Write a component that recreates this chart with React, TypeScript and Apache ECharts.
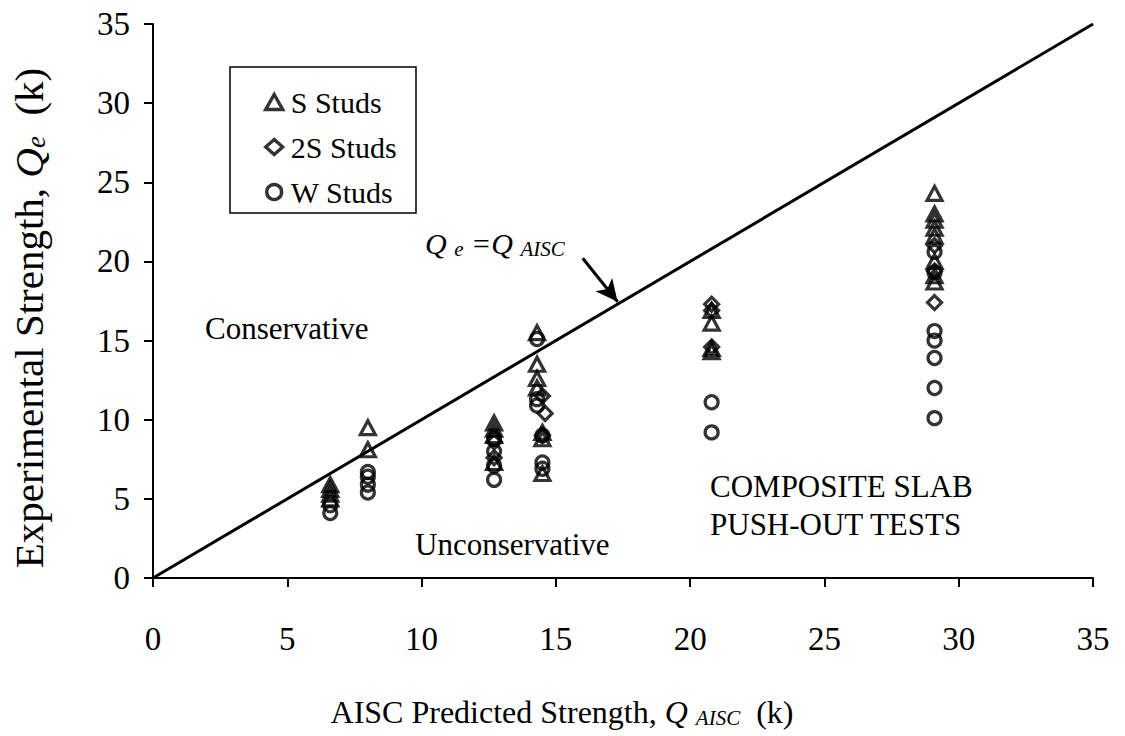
import React, { useEffect, useRef } from "react";
import * as echarts from "echarts";

const xTicks = [0, 5, 10, 15, 20, 25, 30, 35];
const yTicks = [0, 5, 10, 15, 20, 25, 30, 35];

const sStuds: number[][] = [
  [6.6, 5.9], [6.6, 5.6], [6.6, 5.3], [6.6, 5.0],
  [8.0, 9.5], [8.0, 8.1],
  [12.7, 9.8], [12.7, 9.4], [12.7, 9.0], [12.7, 7.3],
  [14.3, 15.5], [14.3, 13.5], [14.3, 12.6], [14.3, 12.0], [14.5, 9.2], [14.5, 8.8], [14.5, 6.6],
  [20.8, 16.9], [20.8, 16.1], [20.8, 14.5], [20.8, 14.3],
  [29.1, 24.3], [29.1, 23.0], [29.1, 22.6], [29.1, 22.1], [29.1, 21.6], [29.1, 20.0], [29.1, 19.1], [29.1, 18.7],
];

const twoSStuds: number[][] = [
  [12.7, 8.6], [12.7, 7.6],
  [14.5, 11.5], [14.6, 10.4], [14.5, 9.0],
  [20.8, 17.3], [20.8, 16.9], [20.8, 14.6],
  [29.1, 21.0], [29.1, 19.4], [29.1, 17.4],
];

const wStuds: number[][] = [
  [6.6, 4.6], [6.6, 4.1],
  [8.0, 6.7], [8.0, 6.4], [8.0, 5.9], [8.0, 5.4],
  [12.7, 8.8], [12.7, 8.0], [12.7, 7.1], [12.7, 6.2],
  [14.3, 15.1], [14.3, 11.3], [14.3, 10.9], [14.5, 9.0], [14.5, 7.3], [14.5, 6.9],
  [20.8, 11.1], [20.8, 9.2],
  [29.1, 20.6], [29.1, 19.3], [29.1, 15.6], [29.1, 15.0], [29.1, 13.9], [29.1, 12.0], [29.1, 10.1],
];

const equalityLine: number[][] = [[0, 0], [35, 35]];
const arrowFrom = [16.0, 20.2];
const arrowTo = [17.3, 17.45];

const FONT = "'Liberation Serif', 'Times New Roman', serif";

export default function App() {
  const ref = useRef<HTMLDivElement>(null);
  useEffect(() => {
    if (!ref.current) return;
    const chart = echarts.init(ref.current, null, { renderer: "svg" });
    const hollow = { color: "rgba(255,255,255,0)", borderColor: "#000", borderWidth: 3.2 };
    const rich = {
      n: { fontSize: 32, fontFamily: FONT, color: "#000" },
      q: { fontSize: 32, fontFamily: FONT, fontStyle: "italic", color: "#000" },
      s: { fontSize: 21, fontFamily: FONT, fontStyle: "italic", color: "#000", padding: [12, 0, 0, 0] },
      yn: { fontSize: 41, fontFamily: FONT, color: "#000" },
      yq: { fontSize: 41, fontFamily: FONT, fontStyle: "italic", color: "#000" },
      ys: { fontSize: 27, fontFamily: FONT, fontStyle: "italic", color: "#000", padding: [14, 0, 0, 0] },
      ln: { fontSize: 30, fontFamily: FONT, fontStyle: "italic", color: "#000" },
      ls: { fontSize: 21, fontFamily: FONT, fontStyle: "italic", color: "#000", padding: [11, 0, 0, 0] },
    };
    const ann = { fontSize: 31, fontFamily: FONT, fill: "#000", verticalAlign: "middle" };
    chart.setOption({
      animation: false,
      backgroundColor: "#fff",
      grid: { left: 153, right: 32, top: 24, bottom: 158 },
      xAxis: {
        type: "value", min: 0, max: 35, interval: 5,
        axisLine: { lineStyle: { color: "#000", width: 2 } },
        axisTick: { show: true, inside: false, length: 9, lineStyle: { color: "#000", width: 2 } },
        axisLabel: {
          fontSize: 33, fontFamily: FONT, color: "#000", margin: 44,
          formatter: (v: number) => (xTicks.includes(v) ? String(v) : ""),
        },
        splitLine: { show: false },
      },
      yAxis: {
        type: "value", min: 0, max: 35, interval: 5,
        axisLine: { lineStyle: { color: "#000", width: 2 } },
        axisTick: { show: true, inside: false, length: 9, lineStyle: { color: "#000", width: 2 } },
        axisLabel: {
          fontSize: 33, fontFamily: FONT, color: "#000", margin: 23,
          formatter: (v: number) => (yTicks.includes(v) ? String(v) : ""),
        },
        splitLine: { show: false },
      },
      legend: {
        orient: "vertical", left: 259, top: 82, itemGap: 15,
        itemWidth: 17, itemHeight: 15,
        textStyle: { fontSize: 30, fontFamily: FONT, color: "#000", lineHeight: 30, padding: [0, 0, 0, 3] },
        data: [
          { name: "S Studs", icon: "triangle", itemStyle: { color: "#fff", borderColor: "#000", borderWidth: 3.4 } },
          { name: "2S Studs", icon: "diamond", itemStyle: { color: "#fff", borderColor: "#000", borderWidth: 3.4 } },
          { name: "W Studs", icon: "circle", itemStyle: { color: "#fff", borderColor: "#000", borderWidth: 3.4 } },
        ],
      },
      graphic: [
        { type: "rect", shape: { x: 230, y: 67, width: 186, height: 146 }, style: { fill: "none", stroke: "#000", lineWidth: 1.5 }, z: 10 },
        { type: "text", x: 205, y: 328, style: { text: "Conservative", ...ann } },
        { type: "text", x: 415, y: 544, style: { text: "Unconservative", ...ann } },
        { type: "text", x: 710, y: 486, style: { text: "COMPOSITE SLAB", ...ann } },
        { type: "text", x: 710, y: 524, style: { text: "PUSH-OUT TESTS", ...ann } },
        {
          type: "text", x: 425, y: 243,
          style: { text: "{ln|Q }{ls|e}{ln| =Q }{ls|AISC}", rich, verticalAlign: "middle", fill: "#000" },
        },
        {
          type: "text", x: 562, y: 712,
          style: { text: "{n|AISC Predicted Strength, }{q|Q }{s|AISC}{n|  (k)}", rich, align: "center", verticalAlign: "middle", fill: "#000" },
        },
        {
          type: "text", x: 29, y: 318, rotation: Math.PI / 2,
          style: { text: "{yn|Experimental Strength, }{yq|Q}{ys|e}{yn|  (k)}", rich, align: "center", verticalAlign: "middle", fill: "#000" },
        },
      ],
      series: [
        {
          type: "line", data: equalityLine, showSymbol: false, symbol: "none",
          lineStyle: { color: "#000", width: 3 }, silent: true, z: 1,
          markLine: {
            silent: true, symbol: ["none", "arrow"], symbolSize: [16, 22],
            lineStyle: { color: "#000", width: 3, type: "solid" },
            label: { show: false },
            data: [[{ coord: arrowFrom }, { coord: arrowTo }]],
          },
        },
        { name: "S Studs", type: "scatter", data: sStuds, symbol: "triangle", symbolSize: [15, 14], itemStyle: hollow, z: 3 },
        { name: "2S Studs", type: "scatter", data: twoSStuds, symbol: "diamond", symbolSize: 14, itemStyle: hollow, z: 3 },
        { name: "W Studs", type: "scatter", data: wStuds, symbol: "circle", symbolSize: 13, itemStyle: hollow, z: 3 },
      ],
    });
    return () => chart.dispose();
  }, []);
  return <div ref={ref} style={{ position: "absolute", left: 0, top: 0, width: 1125, height: 736 }} />;
}
